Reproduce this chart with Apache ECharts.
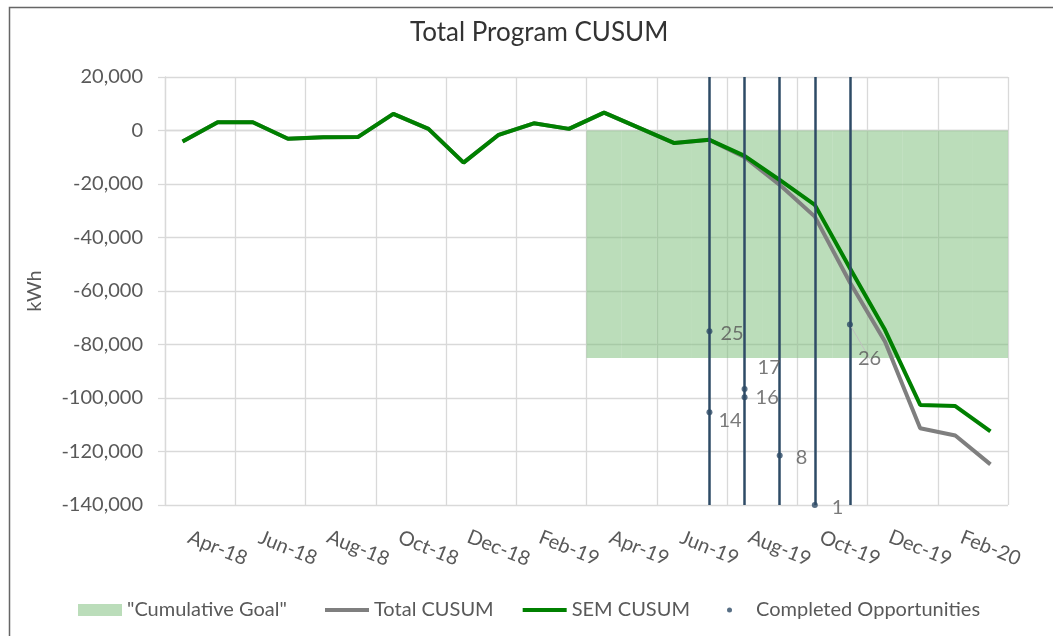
<!DOCTYPE html>
<html>
<head>
<meta charset="utf-8">
<title>Total Program CUSUM</title>
<script src="https://cdn.jsdelivr.net/npm/echarts@6/dist/echarts.min.js"></script>
<style>
  html, body { margin: 0; padding: 0; background: #fff; }
  #chart { width: 1053px; height: 636px; }
</style>
</head>
<body>
<div id="chart"></div>
<script>
// monthly categories, Mar-18 .. Feb-20
var months = ['Mar-18', 'Apr-18', 'May-18', 'Jun-18', 'Jul-18', 'Aug-18', 'Sep-18', 'Oct-18',
  'Nov-18', 'Dec-18', 'Jan-19', 'Feb-19', 'Mar-19', 'Apr-19', 'May-19', 'Jun-19', 'Jul-19',
  'Aug-19', 'Sep-19', 'Oct-19', 'Nov-19', 'Dec-19', 'Jan-20', 'Feb-20'];

var cumulativeGoal = [null, null, null, null, null, null, null, null, null, null, null, null,
  -85000, -85000, -85000, -85000, -85000, -85000, -85000, -85000, -85000, -85000, -85000, -85000];

var totalCusum = [-4100, 3100, 3100, -3100, -2500, -2400, 6200, 600, -12000, -1600, 2700, 600,
  6700, 1000, -4700, -3500, -10000, -20300, -32200, -56800, -79000, -111300, -114000, -124800];

var semCusum = [-4100, 3100, 3100, -3100, -2500, -2400, 6200, 600, -12000, -1600, 2700, 600,
  6700, 1000, -4700, -3500, -9500, -18500, -27800, -51500, -74600, -102600, -103000, -112500];

// completed opportunities (month, cusum value, opportunity number)
var oppMonths = ['Jun-19', 'Jun-19', 'Jul-19', 'Jul-19', 'Aug-19', 'Sep-19', 'Oct-19'];
var oppValues = [-75000, -105300, -96600, -99700, -121500, -140000, -72500];
var oppNumbers = [25, 14, 17, 16, 8, 1, 26];
var oppLineMonths = ['Jun-19', 'Jul-19', 'Aug-19', 'Sep-19', 'Oct-19'];

var yTicks = { min: -140000, max: 20000, step: 20000 };

// where the data labels sit relative to their dot
var labelOffsets = [[0, 2], [-2, 8], [2, -21], [0, 0], [5, 2], [6, 3], [-3, 34]];

var FONT = 'Lato';
var GREY_TEXT = '#595959';
var GRID_LINE = '#d9d9d9';
var NAVY = '#2e4b66';

var chart = echarts.init(document.getElementById('chart'));

var oppData = [];
for (var i = 0; i < oppValues.length; i++) {
  var item = {
    value: [oppMonths[i], oppValues[i]],
    label: { offset: labelOffsets[i] }
  };
  if (oppNumbers[i] === 26) {
    item.labelLine = { show: true, lineStyle: { color: '#bfbfbf', width: 1 } };
  }
  oppData.push(item);
}

var legendText = { fontFamily: FONT, fontSize: 20, color: GREY_TEXT };

var option = {
  animation: false,
  textStyle: { fontFamily: FONT },
  graphic: [{
    type: 'rect',
    left: 7, top: 5,
    shape: { width: 1100, height: 700 },
    style: { fill: 'none', stroke: '#666', lineWidth: 1.5 },
    silent: true
  }],
  title: {
    text: 'Total Program CUSUM',
    left: 405, top: 15,
    textStyle: { fontFamily: FONT, fontSize: 26, fontWeight: 'normal', color: '#333' }
  },
  legend: [{
    left: 73, top: 595,
    itemWidth: 44, itemHeight: 12,
    data: [{ name: '"Cumulative Goal"', icon: 'rect' }],
    textStyle: legendText
  }, {
    left: 320, top: 595,
    itemWidth: 44, itemHeight: 4, itemGap: 29,
    data: [{ name: 'Total CUSUM', icon: 'rect' }, { name: 'SEM CUSUM', icon: 'rect' }],
    textStyle: legendText
  }, {
    left: 722, top: 595,
    itemWidth: 5, itemHeight: 5,
    data: [{ name: 'Completed Opportunities', icon: 'circle' }],
    textStyle: { fontFamily: FONT, fontSize: 20, color: GREY_TEXT, padding: [0, 0, 0, 19] }
  }],
  grid: { left: 165, right: 45, top: 77, bottom: 131 },
  xAxis: {
    type: 'category',
    data: months,
    boundaryGap: true,
    axisLine: { lineStyle: { color: GRID_LINE, width: 1.3 } },
    axisTick: { show: false },
    splitLine: { show: true, interval: 1, lineStyle: { color: GRID_LINE, width: 1.3 } },
    axisLabel: {
      interval: function (idx) { return idx % 2 === 1; },
      rotate: -22,
      align: 'center',
      verticalAlign: 'middle',
      margin: 43,
      fontFamily: FONT,
      fontSize: 20,
      color: GREY_TEXT
    }
  },
  yAxis: {
    type: 'value',
    min: yTicks.min, max: yTicks.max, interval: yTicks.step,
    name: 'kWh',
    nameLocation: 'middle',
    nameGap: 120,
    nameTextStyle: { fontFamily: FONT, fontSize: 20, color: GREY_TEXT },
    axisLine: { show: true, lineStyle: { color: GRID_LINE, width: 1.3 } },
    axisTick: { show: true, length: 7, lineStyle: { color: GRID_LINE, width: 1.3 } },
    splitLine: { lineStyle: { color: GRID_LINE, width: 1.3 } },
    axisLabel: {
      margin: 22,
      fontFamily: FONT,
      fontSize: 20,
      color: GREY_TEXT,
      formatter: function (v) { return v.toLocaleString('en-US'); }
    }
  },
  series: [
    {
      name: '"Cumulative Goal"',
      type: 'bar',
      data: cumulativeGoal,
      barCategoryGap: '0%',
      itemStyle: { color: 'rgba(120,188,118,0.5)' },
      z: 1
    },
    {
      name: 'Total CUSUM',
      type: 'line',
      data: totalCusum,
      symbol: 'none',
      lineStyle: { color: '#7f7f7f', width: 4 },
      itemStyle: { color: '#7f7f7f' },
      z: 2
    },
    {
      name: 'SEM CUSUM',
      type: 'line',
      data: semCusum,
      symbol: 'none',
      lineStyle: { color: '#008000', width: 4 },
      itemStyle: { color: '#008000' },
      z: 3
    },
    {
      name: 'Completed Opportunities',
      type: 'scatter',
      data: oppData,
      symbol: 'circle',
      symbolSize: 6,
      itemStyle: { color: NAVY },
      z: 5,
      label: {
        show: true,
        position: 'right',
        distance: 8,
        fontFamily: FONT,
        fontSize: 20,
        color: GREY_TEXT,
        formatter: function (p) { return oppNumbers[p.dataIndex]; }
      },
      markLine: {
        silent: true,
        symbol: ['none', 'none'],
        label: { show: false },
        lineStyle: { color: NAVY, width: 2.5, type: 'solid' },
        data: oppLineMonths.map(function (m) { return { xAxis: m }; })
      }
    }
  ]
};

chart.setOption(option);
</script>
</body>
</html>
